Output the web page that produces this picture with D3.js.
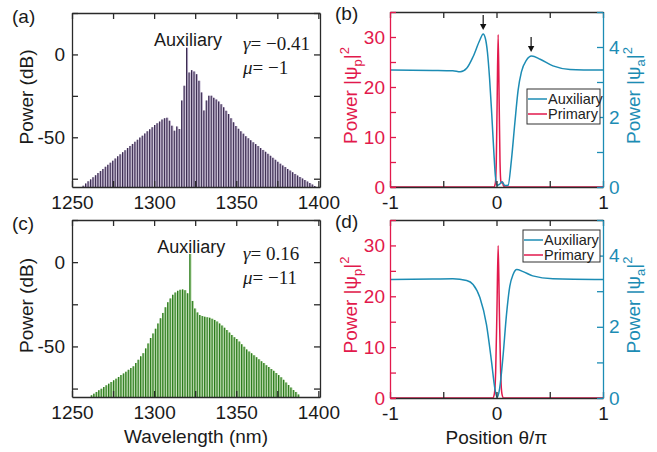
<!DOCTYPE html>
<html><head><meta charset="utf-8">
<script src="https://cdn.jsdelivr.net/npm/d3@7"></script>
<style>html,body{margin:0;padding:0;background:#fff;}svg{display:block;}</style>
</head><body>
<script>
// ---------- DATA ----------
// Panel (a): comb lines [wavelength nm, power dB]
const combA = [
[1257,-79.2],[1258.5,-77.9],[1260,-76.6],[1261.5,-75.4],[1263,-74.1],[1264.5,-72.9],[1266,-71.6],[1267.5,-70.4],
[1269,-69.1],[1270.5,-67.8],[1272,-66.6],[1273.5,-65.3],[1275,-64.1],[1276.5,-62.8],[1278,-61.5],[1279.5,-60.3],
[1281,-59.0],[1282.5,-57.8],[1284,-56.5],[1285.5,-55.2],[1287,-54.0],[1288.5,-52.7],[1290,-51.5],[1291.5,-50.2],
[1293,-49.0],[1294.5,-47.7],[1296,-46.4],[1297.5,-45.2],[1299,-43.9],[1300.5,-42.6],[1302,-41.5],[1303.5,-40.5],
[1305,-39.3],[1306.5,-38.5],[1308,-38.2],[1309.5,-40.0],[1311,-43.0],[1312.5,-46.0],[1314,-43.5],[1315.5,-45.0],
[1317,-27.8],[1318.5,-18.9],[1320,4.0],[1321.5,-10.9],[1323,-9.5],[1324.5,-10.3],[1326,-11.9],[1327.5,-15.9],
[1329,-22.9],[1330.5,-33.8],[1332,-27.8],[1333.5,-24.9],[1335,-24.9],[1336.5,-26.2],[1338,-27.2],[1339.5,-28.4],
[1341,-30.0],[1342.5,-31.9],[1344,-34.0],[1345.5,-36.0],[1347,-38.5],[1348.5,-41.0],[1350,-43.2],[1351.5,-44.9],
[1353,-46.4],[1354.5,-47.8],[1356,-49.3],[1357.5,-50.6],[1359,-51.8],[1360.5,-53.0],[1362,-54.1],[1363.5,-55.3],
[1365,-56.5],[1366.5,-57.6],[1368,-58.8],[1369.5,-60.0],[1371,-61.2],[1372.5,-62.4],[1374,-63.6],[1375.5,-64.8],
[1377,-65.9],[1378.5,-67.0],[1380,-68.0],[1381.5,-69.1],[1383,-70.1],[1384.5,-71.1],[1386,-72.1],[1387.5,-73.1],
[1389,-74.0],[1390.5,-74.9],[1392,-75.8],[1393.5,-76.7],[1395,-77.6],[1396.5,-78.5],[1398,-79.4]
];
// Panel (c): comb lines [wavelength nm, power dB]
const combC = [
[1262,-79.0],[1263.5,-78.0],[1265,-77.0],[1266.5,-76.0],[1268,-75.1],[1269.5,-74.1],[1271,-73.1],[1272.5,-72.1],
[1274,-71.1],[1275.5,-70.1],[1277,-69.1],[1278.5,-68.1],[1280,-67.0],[1281.5,-66.0],[1283,-65.0],[1284.5,-63.9],
[1286,-62.8],[1287.5,-61.8],[1289,-59.8],[1290.5,-57.9],[1292,-55.9],[1293.5,-54.0],[1295,-51.2],[1296.5,-48.2],
[1298,-45.0],[1299.5,-42.3],[1301,-39.5],[1302.5,-36.4],[1304,-33.3],[1305.5,-30.1],[1307,-26.8],[1308.5,-23.8],
[1310,-21.5],[1311.5,-19.4],[1313,-18.0],[1314.5,-17.0],[1316,-16.4],[1317.5,-16.2],[1319,-16.6],[1320.5,-18.5],
[1322,4.8],[1323.5,-23.0],[1325,-27.5],[1326.5,-29.8],[1328,-31.4],[1329.5,-32.0],[1331,-32.4],[1332.5,-32.7],
[1334,-33.0],[1335.5,-33.6],[1337,-34.3],[1338.5,-35.2],[1340,-36.4],[1341.5,-37.6],[1343,-38.9],[1344.5,-40.3],
[1346,-41.8],[1347.5,-43.2],[1349,-44.5],[1350.5,-45.6],[1352,-47.1],[1353.5,-48.7],[1355,-50.2],[1356.5,-51.8],
[1358,-53.0],[1359.5,-54.1],[1361,-55.3],[1362.5,-56.4],[1364,-57.6],[1365.5,-58.8],[1367,-59.9],[1368.5,-61.1],
[1370,-62.2],[1371.5,-63.4],[1373,-64.5],[1374.5,-65.8],[1376,-67.0],[1377.5,-68.3],[1379,-69.8],[1380.5,-71.4],
[1382,-72.9],[1383.5,-74.4],[1385,-75.9],[1386.5,-77.0],[1388,-78.5]
];
// Panel (b): [theta/pi, power]
const auxB = [[-1,3.34],[-0.6,3.33],[-0.41,3.32],[-0.34,3.29],[-0.28,3.39],[-0.22,3.72],[-0.156,4.2],[-0.125,4.37],
[-0.105,4.25],[-0.085,3.85],[-0.065,3.1],[-0.045,2.1],[-0.025,1.0],[-0.01,0.3],[0.005,0.05],[0.03,0.08],[0.05,0.15],
[0.08,0.04],[0.109,0.05],[0.14,0.77],[0.172,1.82],[0.203,2.77],[0.234,3.29],[0.28,3.62],[0.33,3.74],[0.41,3.65],
[0.53,3.46],[0.69,3.36],[1,3.34]];
const primB = [[-1,0],[-0.025,0],[-0.012,0.6],[-0.002,5],[0.006,17],[0.0156,30.5],[0.025,17],[0.033,5],[0.042,1],
[0.05,0.8],[0.057,1.0],[0.064,0.3],[0.078,0],[1,0]];
// Panel (d): [theta/pi, power]
const auxD = [[-1,3.33],[-0.6,3.34],[-0.41,3.35],[-0.28,3.3],[-0.22,3.19],[-0.156,2.82],[-0.094,2.06],[-0.047,1.03],
[-0.016,0.28],[0.006,0.02],[0.03,0.28],[0.06,1.13],[0.094,2.35],[0.125,3.14],[0.156,3.47],[0.19,3.61],[0.25,3.55],
[0.34,3.43],[0.53,3.35],[1,3.33]];
const primD = [[-1,0],[-0.035,0],[-0.02,0.8],[-0.008,5],[0.004,17],[0.0156,30],[0.027,17],[0.039,5],[0.051,0.8],
[0.066,0],[1,0]];
// Arrow markers in (b): [theta/pi, |psi_a|^2 of peak]
const arrowsB = [[-0.125,4.37],[0.325,3.74]];
// Ticks
const specXTicks = [1250,1275,1300,1325,1350,1375,1400];
const specXLabels = [1250,1300,1350,1400];
const specYTicks = [-75,-50,-25,0,25];
const specYLabels = [-50,0];
const posXTicks = [-1,-0.5,0,0.5,1];
const posXLabels = [-1,0,1];
const psiPTicks = [0,5,10,15,20,25,30,35];
const psiPLabels = [0,10,20,30];
const psiATicks = [0,1,2,3,4,5];
const psiALabels = [0,2,4];

// ---------- DRAW ----------
const W = 657, H = 452;
const SANS = "'Liberation Sans', Arial, Helvetica, sans-serif";
const SERIF = "'Liberation Serif', 'Times New Roman', serif";
const RED = "#e2194c", TEAL = "#1c8cb4", AX = "#2a2a2a";
const svg = d3.select("body").append("svg").attr("width", W).attr("height", H);

function fmt(list){ return d => list.includes(d) ? String(d) : ""; }
function styleAxis(g, color, textColor){
  g.select(".domain").attr("stroke", color).attr("stroke-width", 1.3);
  g.selectAll(".tick line").attr("stroke", color).attr("stroke-width", 1.3);
  g.selectAll(".tick text").attr("fill", textColor || color)
    .style("font-family", SANS).style("font-size", "19px");
}

function spectrum(box, data, dark, light, label, gTxt, mTxt, xlabel, off){
  const x = d3.scaleLinear().domain([1250, 1401]).range([box.x0, box.x1]);
  const y = d3.scaleLinear().domain([-80, 25]).range([box.y1, box.y0]);
  const g = svg.append("g");
  const bars = g.append("g");
  bars.selectAll("rect").data(data).enter().append("rect")
    .attr("x", d => x(d[0]) - 0.9).attr("width", 2.0)
    .attr("y", d => y(d[1])).attr("height", d => y(-80) - y(d[1]))
    .attr("fill", light);
  bars.selectAll("line").data(data).enter().append("line")
    .attr("x1", d => x(d[0]) - 0.4).attr("x2", d => x(d[0]) - 0.4)
    .attr("y1", d => y(d[1])).attr("y2", y(-80))
    .attr("stroke", dark).attr("stroke-width", 1.1);
  // axes
  const top = g.append("g").attr("transform", `translate(0,${box.y0})`)
    .call(d3.axisTop(x).tickValues(specXTicks).tickSizeInner(-6).tickSizeOuter(0).tickFormat(""));
  styleAxis(top, AX);
  const right = g.append("g").attr("transform", `translate(${box.x1},0)`)
    .call(d3.axisRight(y).tickValues(specYTicks).tickSizeInner(-6).tickSizeOuter(0).tickFormat(""));
  styleAxis(right, AX);
  const left = g.append("g").attr("transform", `translate(${box.x0},0)`)
    .call(d3.axisLeft(y).tickValues(specYTicks).tickSizeInner(-6).tickSizeOuter(0).tickPadding(7).tickFormat(fmt(specYLabels)));
  styleAxis(left, AX, "#1a1a1a");
  const bottom = g.append("g").attr("transform", `translate(0,${box.y1})`)
    .call(d3.axisBottom(x).tickValues(specXTicks).tickSizeInner(-6).tickSizeOuter(0).tickPadding(9).tickFormat(fmt(specXLabels)));
  styleAxis(bottom, AX, "#1a1a1a");
  // y label
  svg.append("text").attr("transform", `translate(${box.x0 - 39},${(box.y0 + box.y1) / 2 - 3}) rotate(-90)`)
    .attr("text-anchor", "middle").style("font-family", SANS).style("font-size", "19px").attr("fill", "#1a1a1a")
    .text("Power (dB)");
  if (xlabel) {
    svg.append("text").attr("x", (box.x0 + box.x1) / 2).attr("y", box.y1 + 46)
      .attr("text-anchor", "middle").style("font-family", SANS).style("font-size", "19px").attr("fill", "#1a1a1a")
      .text(xlabel);
  }
  // annotations
  const aux = data.reduce((a, b) => b[1] > a[1] ? b : a);
  svg.append("text").attr("x", x(aux[0]) + 1).attr("y", box.y0 + 33)
    .attr("text-anchor", "middle").style("font-family", SANS).style("font-size", "18px").attr("fill", "#1a1a1a")
    .text("Auxiliary");
  const t1 = svg.append("text").attr("x", box.x0 + 171).attr("y", box.y0 + off)
    .style("font-family", SERIF).style("font-size", "19px").attr("fill", "#1a1a1a");
  t1.append("tspan").style("font-style", "italic").text("γ");
  t1.append("tspan").text(gTxt);
  const t2 = svg.append("text").attr("x", box.x0 + 171).attr("y", box.y0 + off + 24)
    .style("font-family", SERIF).style("font-size", "19px").attr("fill", "#1a1a1a");
  t2.append("tspan").style("font-style", "italic").text("μ");
  t2.append("tspan").text(mTxt);
  svg.append("text").attr("x", 12).attr("y", box.y0 + 10).style("font-family", SANS).style("font-size", "19px")
    .attr("fill", "#1a1a1a").text(label);
}

function psiLabel(x, y, sub, color){
  const t = svg.append("text").attr("transform", `translate(${x},${y}) rotate(-90)`)
    .attr("text-anchor", "middle").style("font-family", SANS).style("font-size", "19px").attr("fill", color);
  t.append("tspan").text("Power |ψ");
  t.append("tspan").attr("dy", 5).style("font-size", "13px").text(sub);
  t.append("tspan").attr("dy", -5).text("|");
  t.append("tspan").attr("dy", -8).style("font-size", "13px").text("2");
}

function position(box, aux, prim, label, xlabel, legendBox, arrows){
  const x = d3.scaleLinear().domain([-1, 1]).range([box.x0, box.x1]);
  const yp = d3.scaleLinear().domain([0, 35]).range([box.y1, box.y0]);
  const ya = d3.scaleLinear().domain([0, 5]).range([box.y1, box.y0]);
  const g = svg.append("g");
  const la = d3.line().x(d => x(d[0])).y(d => ya(d[1])).curve(d3.curveMonotoneX);
  const lp = d3.line().x(d => x(d[0])).y(d => yp(d[1])).curve(d3.curveMonotoneX);
  g.append("path").attr("d", lp(prim)).attr("fill", "none").attr("stroke", RED).attr("stroke-width", 1.5);
  g.append("path").attr("d", la(aux)).attr("fill", "none").attr("stroke", TEAL).attr("stroke-width", 1.5);
  const top = g.append("g").attr("transform", `translate(0,${box.y0})`)
    .call(d3.axisTop(x).tickValues(posXTicks).tickSizeInner(-6).tickSizeOuter(0).tickFormat(""));
  styleAxis(top, AX);
  const bottom = g.append("g").attr("transform", `translate(0,${box.y1})`)
    .call(d3.axisBottom(x).tickValues(posXTicks).tickSizeInner(-6).tickSizeOuter(0).tickPadding(9).tickFormat(fmt(posXLabels)));
  styleAxis(bottom, AX, "#1a1a1a");
  const left = g.append("g").attr("transform", `translate(${box.x0},0)`)
    .call(d3.axisLeft(yp).tickValues(psiPTicks).tickSizeInner(-6).tickSizeOuter(0).tickPadding(5).tickFormat(fmt(psiPLabels)));
  styleAxis(left, RED);
  const right = g.append("g").attr("transform", `translate(${box.x1},0)`)
    .call(d3.axisRight(ya).tickValues(psiATicks).tickSizeInner(-6).tickSizeOuter(0).tickPadding(6).tickFormat(fmt(psiALabels)));
  styleAxis(right, TEAL);
  psiLabel(box.x0 - 33, (box.y0 + box.y1) / 2 - 4, "p", RED);
  psiLabel(box.x1 + 37, (box.y0 + box.y1) / 2 - 4, "a", TEAL);
  svg.append("text").attr("x", box.x0 - 55).attr("y", box.y0 + 8).style("font-family", SANS).style("font-size", "19px")
    .attr("fill", "#1a1a1a").text(label);
  if (xlabel) {
    const t = svg.append("text").attr("x", (box.x0 + box.x1) / 2).attr("y", box.y1 + 46)
      .attr("text-anchor", "middle").style("font-family", SANS).style("font-size", "19px").attr("fill", "#1a1a1a");
    t.text(xlabel);
  }
  // legend
  const lg = svg.append("g");
  lg.append("rect").attr("x", legendBox.x).attr("y", legendBox.y).attr("width", legendBox.w).attr("height", legendBox.h)
    .attr("fill", "#fff").attr("stroke", "#333").attr("stroke-width", 1);
  const items = [["Auxiliary", TEAL], ["Primary", RED]];
  items.forEach((it, i) => {
    const yy = legendBox.y + 10 + i * 15;
    lg.append("line").attr("x1", legendBox.x + 1).attr("x2", legendBox.x + 20).attr("y1", yy).attr("y2", yy)
      .attr("stroke", it[1]).attr("stroke-width", 1.5);
    lg.append("text").attr("x", legendBox.x + 21).attr("y", yy + 5).style("font-family", SANS).style("font-size", "14.5px")
      .attr("fill", "#222").text(it[0]);
  });
  if (arrows) {
    arrows.forEach(a => {
      const ax = x(a[0]), ay = ya(a[1]);
      g.append("line").attr("x1", ax).attr("x2", ax).attr("y1", ay - 19).attr("y2", ay - 8)
        .attr("stroke", "#111").attr("stroke-width", 1.2);
      g.append("path").attr("d", `M${ax - 3.2},${ay - 10} L${ax + 3.2},${ay - 10} L${ax},${ay - 4} Z`).attr("fill", "#111");
    });
  }
}

spectrum({x0: 72, x1: 320, y0: 13, y1: 187}, combA, "#3b2c50", "#b3a5c4", "(a)", "= \u22120.41", "= \u22121", null, 37);
spectrum({x0: 72, x1: 320, y0: 220, y1: 397}, combC, "#2b7a1c", "#9fcb8e", "(c)", "= 0.16", "= \u221211", "Wavelength (nm)", 40);
position({x0: 390, x1: 603, y0: 12, y1: 187}, auxB, primB, "(b)", null, {x: 527, y: 89, w: 73, h: 35}, arrowsB);
position({x0: 390, x1: 603, y0: 220, y1: 398}, auxD, primD, "(d)", "Position θ/π", {x: 523, y: 230, w: 77, h: 32}, null);
</script>
</body></html>
